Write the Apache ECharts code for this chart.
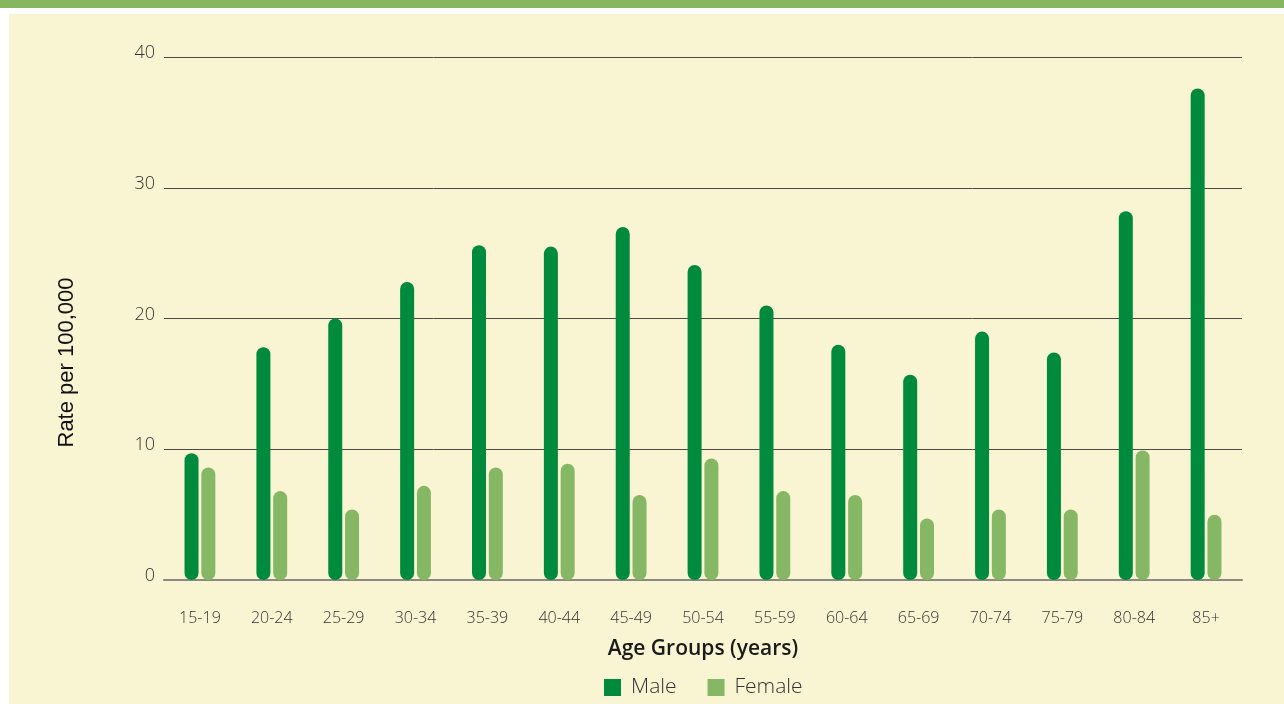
<!DOCTYPE html>
<html>
<head>
<meta charset="utf-8">
<script src="https://cdn.jsdelivr.net/npm/echarts@6/dist/echarts.min.js"></script>
<style>
  html, body { margin: 0; padding: 0; background: #ffffff; }
  #chart { width: 1284px; height: 704px; }
</style>
</head>
<body>
<div id="chart"></div>
<script>
  // data
  var ageGroups = ['15-19', '20-24', '25-29', '30-34', '35-39', '40-44', '45-49', '50-54',
    '55-59', '60-64', '65-69', '70-74', '75-79', '80-84', '85+']
  var maleRates = [9.7, 17.8, 20.0, 22.8, 25.6, 25.5, 27.0, 24.1, 21.0, 18.0, 15.7, 19.0, 17.4, 28.2, 37.6]
  var femaleRates = [8.6, 6.8, 5.4, 7.2, 8.6, 8.9, 6.5, 9.3, 6.8, 6.5, 4.7, 5.4, 5.4, 9.9, 5.0]

  var MALE = '#008a3d'
  var FEMALE = '#86b764'
  var font = '"Open Sans", sans-serif'

  var chart = echarts.init(document.getElementById('chart'))
  var option = {
    animation: false,
    backgroundColor: '#ffffff',
    textStyle: { fontFamily: font },
    graphic: [
      // top green band + yellow panel
      { type: 'rect', z: -10, shape: { x: 0, y: 0, width: 1284, height: 8 }, style: { fill: '#86b660' } },
      { type: 'rect', z: -10, shape: { x: 9, y: 14, width: 1275, height: 690 }, style: { fill: '#f9f5d3' } }
    ],
    legend: {
      data: ['Male', 'Female'],
      top: 672,
      left: 599,
      itemWidth: 17,
      itemHeight: 17,
      itemGap: 31,
      icon: 'rect',
      textStyle: { fontSize: 21, color: '#333', fontFamily: font, fontWeight: 300, padding: [0, 0, 0, 5] }
    },
    grid: { left: 164, right: 42, top: 57, bottom: 124 },
    xAxis: {
      type: 'category',
      data: ageGroups,
      name: 'Age Groups (years)',
      nameLocation: 'middle',
      nameGap: 59,
      nameTextStyle: { fontSize: 21, color: '#1a1a1a', fontWeight: 600, fontFamily: font },
      axisLine: { lineStyle: { color: '#8c8a80', width: 2 } },
      axisTick: { alignWithLabel: true, length: 10, lineStyle: { color: '#444' } },
      axisLabel: { margin: 30, fontSize: 16, color: '#333', fontWeight: 300, fontFamily: font }
    },
    yAxis: {
      type: 'value',
      min: 0,
      max: 40,
      interval: 10,
      name: 'Rate per 100,000',
      nameLocation: 'middle',
      nameGap: 86,
      nameTextStyle: {
        fontSize: 22, color: '#111', fontWeight: 'normal',
        fontFamily: '"Liberation Sans", Arial, sans-serif', padding: [0, 88, 0, 0]
      },
      axisLine: { show: false },
      axisTick: { show: false },
      axisLabel: {
        margin: 9,
        formatter: '{v|{value}}',
        rich: { v: { fontSize: 18, color: '#333', fontWeight: 300, fontFamily: font, padding: [0, 0, 8, 0] } }
      },
      splitLine: { lineStyle: { color: '#4a4a46', width: 1 } }
    },
    series: [
      {
        name: 'Male',
        type: 'bar',
        data: maleRates,
        barWidth: 14,
        barGap: '20%',
        itemStyle: { color: MALE, borderRadius: 7 }
      },
      {
        name: 'Female',
        type: 'bar',
        data: femaleRates,
        barWidth: 14,
        itemStyle: { color: FEMALE, borderRadius: 7 }
      }
    ]
  }
  chart.setOption(option)
</script>
</body>
</html>
